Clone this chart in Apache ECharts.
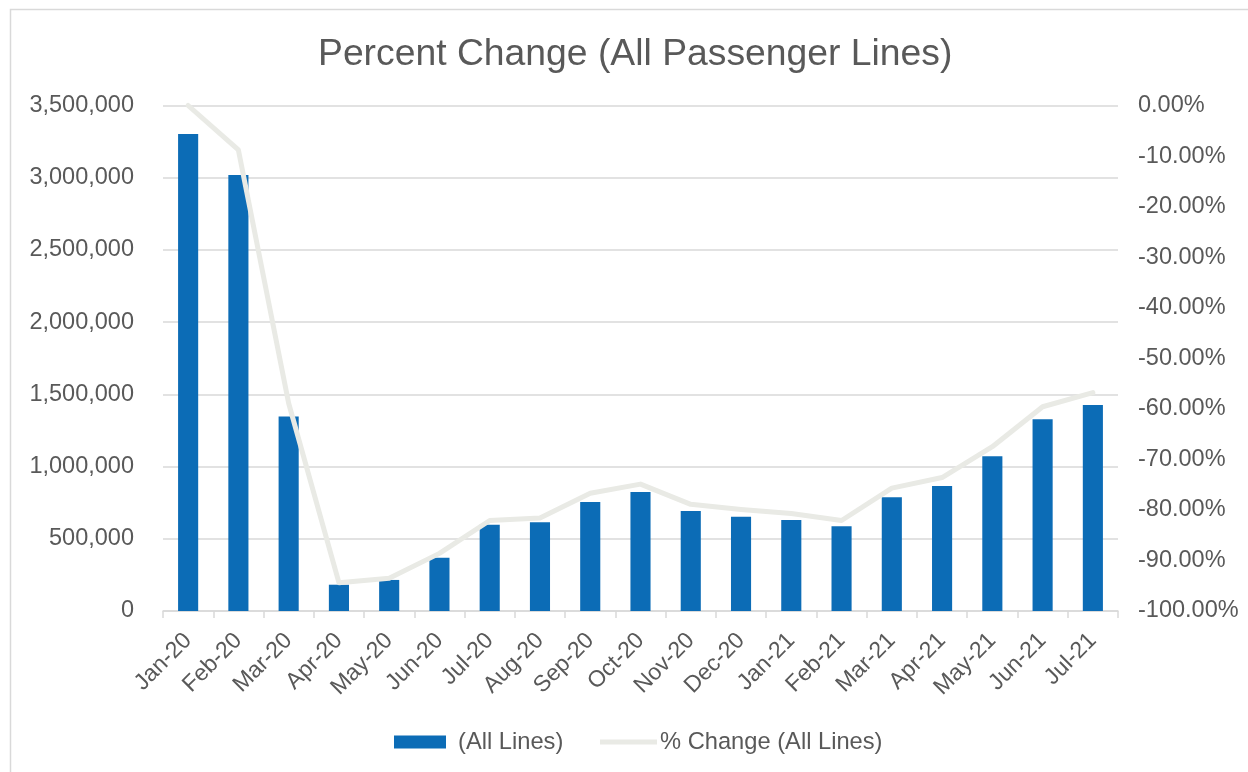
<!DOCTYPE html>
<html>
<head>
<meta charset="utf-8">
<script src="https://cdn.jsdelivr.net/npm/echarts@6/dist/echarts.min.js"></script>
<style>
  html, body { margin: 0; padding: 0; background: #ffffff; }
  #chart { width: 1248px; height: 772px; }
</style>
</head>
<body>
<div id="chart"></div>
<script>
// Monthly passenger totals and change versus January 2020
const months = ['Jan-20', 'Feb-20', 'Mar-20', 'Apr-20', 'May-20', 'Jun-20', 'Jul-20', 'Aug-20', 'Sep-20', 'Oct-20',
  'Nov-20', 'Dec-20', 'Jan-21', 'Feb-21', 'Mar-21', 'Apr-21', 'May-21', 'Jun-21', 'Jul-21'];
const allLines = [3303000, 3019000, 1346000, 182000, 215000, 369000, 598000, 615000, 755000, 824000,
  692000, 653000, 630000, 587000, 787000, 866000, 1071000, 1328000, 1427000];
const pctChange = [0, -8.8, -58.9, -94.4, -93.5, -88.6, -82.1, -81.6, -76.7, -74.9,
  -78.9, -79.9, -80.7, -82.1, -75.7, -73.6, -67.5, -59.6, -56.8];
const leftTicks = { min: 0, max: 3500000, step: 500000 };
const rightTicks = { min: -100, max: 0, step: 10 };

const TEXT = '#595959';
const GRID = '#d9d9d9';
const FONT = '"Liberation Sans", Arial, sans-serif';

const chart = echarts.init(document.getElementById('chart'), null, { renderer: 'canvas' });
chart.setOption({
  backgroundColor: '#ffffff',
  animation: false,
  textStyle: { fontFamily: FONT, color: TEXT },
  graphic: [{
    type: 'rect',
    shape: { x: 10.5, y: 9.5, width: 1300, height: 800 },
    style: { fill: 'none', stroke: GRID, lineWidth: 1.5 },
    silent: true
  }],
  title: {
    text: 'Percent Change (All Passenger Lines)',
    left: 313,
    top: 31,
    textStyle: { fontFamily: FONT, fontSize: 37.3, fontWeight: 'normal', color: TEXT }
  },
  legend: [{
    data: [{ name: '(All Lines)', icon: 'rect' }],
    left: 389,
    top: 725,
    itemWidth: 52,
    itemHeight: 13,
    textStyle: { fontFamily: FONT, fontSize: 23.7, color: TEXT, padding: [0, 0, 0, 7] }
  }, {
    data: [{ name: '% Change (All Lines)', icon: 'path://M0,0H57V5H0Z' }],
    left: 595,
    top: 725,
    itemWidth: 57,
    itemHeight: 13,
    textStyle: { fontFamily: FONT, fontSize: 23.7, color: TEXT, padding: [0, 0, 0, -2] }
  }],
  grid: { left: 163, right: 130, top: 105.5, bottom: 161, containLabel: false },
  xAxis: {
    type: 'category',
    data: months,
    boundaryGap: true,
    axisLine: { show: true, lineStyle: { color: GRID, width: 1.5 } },
    axisTick: { show: true, alignWithLabel: false, length: 7, lineStyle: { color: GRID, width: 1.5 } },
    axisLabel: { rotate: 45, interval: 0, margin: 26, fontFamily: FONT, fontSize: 23, color: TEXT }
  },
  yAxis: [{
    type: 'value',
    min: leftTicks.min,
    max: leftTicks.max,
    interval: leftTicks.step,
    axisLine: { show: false },
    axisTick: { show: false },
    splitLine: { show: true, lineStyle: { color: GRID, width: 1.5 } },
    axisLabel: {
      margin: 29, fontFamily: FONT, fontSize: 23.5, color: TEXT,
      formatter: v => v.toLocaleString('en-US')
    }
  }, {
    type: 'value',
    position: 'right',
    min: rightTicks.min,
    max: rightTicks.max,
    interval: rightTicks.step,
    axisLine: { show: false },
    axisTick: { show: false },
    splitLine: { show: false },
    axisLabel: {
      margin: 20, fontFamily: FONT, fontSize: 23.5, color: TEXT,
      formatter: v => v.toFixed(2) + '%'
    }
  }],
  series: [{
    name: '(All Lines)',
    type: 'bar',
    yAxisIndex: 0,
    data: allLines,
    barWidth: '40%',
    itemStyle: { color: '#0c6cb6' }
  }, {
    name: '% Change (All Lines)',
    type: 'line',
    yAxisIndex: 1,
    data: pctChange,
    showSymbol: false,
    symbol: 'none',
    clip: false,
    color: '#e9eae5',
    itemStyle: { color: '#e9eae5' },
    lineStyle: { color: '#e9eae5', width: 5, join: 'round', cap: 'round' }
  }]
});
</script>
</body>
</html>
